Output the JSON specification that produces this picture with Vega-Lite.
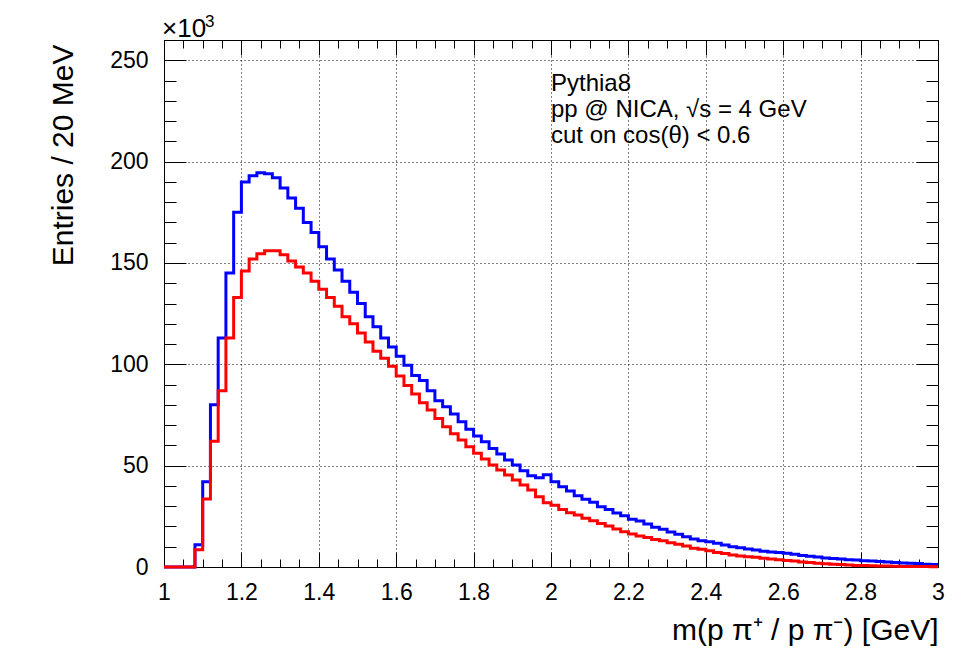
{
  "$schema": "https://vega.github.io/schema/vega-lite/v6.json",
  "autosize": "none",
  "width": 774,
  "height": 527,
  "padding": {"left": 164, "top": 40, "right": 42, "bottom": 104},
  "background": "white",
  "data": {"values": [
    {"m": 1.00, "n1": 0, "n2": 0},
    {"m": 1.02, "n1": 0, "n2": 0},
    {"m": 1.04, "n1": 0, "n2": 0},
    {"m": 1.06, "n1": 0, "n2": 0},
    {"m": 1.08, "n1": 11, "n2": 8.5},
    {"m": 1.10, "n1": 42, "n2": 33.5},
    {"m": 1.12, "n1": 80, "n2": 62},
    {"m": 1.14, "n1": 113, "n2": 87},
    {"m": 1.16, "n1": 145, "n2": 113},
    {"m": 1.18, "n1": 175, "n2": 133},
    {"m": 1.20, "n1": 190, "n2": 146},
    {"m": 1.22, "n1": 193, "n2": 152},
    {"m": 1.24, "n1": 194.5, "n2": 154.5},
    {"m": 1.26, "n1": 194, "n2": 156},
    {"m": 1.28, "n1": 192, "n2": 156},
    {"m": 1.30, "n1": 187, "n2": 154},
    {"m": 1.32, "n1": 182, "n2": 151},
    {"m": 1.34, "n1": 177, "n2": 148},
    {"m": 1.36, "n1": 170, "n2": 145},
    {"m": 1.38, "n1": 165, "n2": 141},
    {"m": 1.40, "n1": 158, "n2": 137},
    {"m": 1.42, "n1": 152, "n2": 133},
    {"m": 1.44, "n1": 146.5, "n2": 128.7},
    {"m": 1.46, "n1": 141, "n2": 123.5},
    {"m": 1.48, "n1": 135.5, "n2": 120},
    {"m": 1.50, "n1": 130, "n2": 115.5},
    {"m": 1.52, "n1": 123.5, "n2": 111},
    {"m": 1.54, "n1": 118.5, "n2": 106.5},
    {"m": 1.56, "n1": 113, "n2": 103},
    {"m": 1.58, "n1": 108.5, "n2": 99},
    {"m": 1.60, "n1": 104, "n2": 94.2},
    {"m": 1.62, "n1": 99.5, "n2": 89.6},
    {"m": 1.64, "n1": 94.5, "n2": 85.3},
    {"m": 1.66, "n1": 92, "n2": 81},
    {"m": 1.68, "n1": 87, "n2": 77.4},
    {"m": 1.70, "n1": 82, "n2": 73.3},
    {"m": 1.72, "n1": 79, "n2": 69.2},
    {"m": 1.74, "n1": 75.5, "n2": 65.7},
    {"m": 1.76, "n1": 71.7, "n2": 62.6},
    {"m": 1.78, "n1": 68, "n2": 59.3},
    {"m": 1.80, "n1": 64.6, "n2": 56.1},
    {"m": 1.82, "n1": 61.8, "n2": 53.3},
    {"m": 1.84, "n1": 58.5, "n2": 50.3},
    {"m": 1.86, "n1": 55.7, "n2": 47.8},
    {"m": 1.88, "n1": 52.8, "n2": 45.4},
    {"m": 1.90, "n1": 50.3, "n2": 42.9},
    {"m": 1.92, "n1": 47.5, "n2": 40.4},
    {"m": 1.94, "n1": 45, "n2": 38},
    {"m": 1.96, "n1": 44, "n2": 34.7},
    {"m": 1.98, "n1": 45.5, "n2": 31.7},
    {"m": 2.00, "n1": 42, "n2": 30.5},
    {"m": 2.02, "n1": 39.6, "n2": 28.4},
    {"m": 2.04, "n1": 37.5, "n2": 26.8},
    {"m": 2.06, "n1": 35.2, "n2": 25.6},
    {"m": 2.08, "n1": 33.4, "n2": 24},
    {"m": 2.10, "n1": 31.9, "n2": 22.8},
    {"m": 2.12, "n1": 29.7, "n2": 21.5},
    {"m": 2.14, "n1": 28.4, "n2": 20.2},
    {"m": 2.16, "n1": 26.7, "n2": 18.7},
    {"m": 2.18, "n1": 25.3, "n2": 17.4},
    {"m": 2.20, "n1": 23.5, "n2": 16.3},
    {"m": 2.22, "n1": 22.7, "n2": 15.3},
    {"m": 2.24, "n1": 21.2, "n2": 14.5},
    {"m": 2.26, "n1": 19.6, "n2": 13.6},
    {"m": 2.28, "n1": 18.6, "n2": 13},
    {"m": 2.30, "n1": 17.3, "n2": 12},
    {"m": 2.32, "n1": 16.1, "n2": 11.2},
    {"m": 2.34, "n1": 14.9, "n2": 10.4},
    {"m": 2.36, "n1": 13.8, "n2": 9.2},
    {"m": 2.38, "n1": 13, "n2": 8.7},
    {"m": 2.40, "n1": 12.4, "n2": 8},
    {"m": 2.42, "n1": 11.7, "n2": 7.2},
    {"m": 2.44, "n1": 10.8, "n2": 6.7},
    {"m": 2.46, "n1": 10, "n2": 5.9},
    {"m": 2.48, "n1": 9.5, "n2": 5.4},
    {"m": 2.50, "n1": 8.9, "n2": 5.1},
    {"m": 2.52, "n1": 8.4, "n2": 4.8},
    {"m": 2.54, "n1": 7.8, "n2": 4.3},
    {"m": 2.56, "n1": 7.4, "n2": 3.9},
    {"m": 2.58, "n1": 7.1, "n2": 3.6},
    {"m": 2.60, "n1": 6.8, "n2": 3.2},
    {"m": 2.62, "n1": 6.3, "n2": 3},
    {"m": 2.64, "n1": 5.7, "n2": 2.5},
    {"m": 2.66, "n1": 5.3, "n2": 2.2},
    {"m": 2.68, "n1": 4.9, "n2": 1.9},
    {"m": 2.70, "n1": 4.5, "n2": 1.6},
    {"m": 2.72, "n1": 4.2, "n2": 1.4},
    {"m": 2.74, "n1": 3.9, "n2": 1.2},
    {"m": 2.76, "n1": 3.6, "n2": 1},
    {"m": 2.78, "n1": 3.4, "n2": 0.8},
    {"m": 2.80, "n1": 3.1, "n2": 0.7},
    {"m": 2.82, "n1": 2.9, "n2": 0.6},
    {"m": 2.84, "n1": 2.7, "n2": 0.5},
    {"m": 2.86, "n1": 2.5, "n2": 0.45},
    {"m": 2.88, "n1": 2.2, "n2": 0.4},
    {"m": 2.90, "n1": 2, "n2": 0.3},
    {"m": 2.92, "n1": 1.9, "n2": 0.3},
    {"m": 2.94, "n1": 1.7, "n2": 0.2},
    {"m": 2.96, "n1": 1.4, "n2": 0.2},
    {"m": 2.98, "n1": 1.2, "n2": 0.15},
    {"m": 3.00, "n1": 1.2, "n2": 0.15}
  ]},
  "layer": [
    {
      "mark": {"type": "line", "interpolate": "step-after", "color": "#0000ff", "strokeWidth": 3, "strokeJoin": "miter"},
      "encoding": {
        "x": {"field": "m", "type": "quantitative",
          "scale": {"domain": [1, 3], "nice": false, "zero": false},
          "axis": {
            "orient": "bottom",
            "values": [1,1.05,1.1,1.15,1.2,1.25,1.3,1.35,1.4,1.45,1.5,1.55,1.6,1.65,1.7,1.75,1.8,1.85,1.9,1.95,2,2.05,2.1,2.15,2.2,2.25,2.3,2.35,2.4,2.45,2.5,2.55,2.6,2.65,2.7,2.75,2.8,2.85,2.9,2.95,3],
            "labelExpr": "abs(datum.value*5 - round(datum.value*5)) < 0.001 ? format(datum.value, '~g') : ''",
            "labelFlush": false, "labelOverlap": false, "labelBound": false,
            "labelFontSize": 23, "labelPadding": 29, "labelBaseline": "top",
            "tickSize": {"condition": {"test": "abs(datum.value*5 - round(datum.value*5)) < 0.001", "value": -15}, "value": -8},
            "grid": true,
            "gridOpacity": {"condition": {"test": "abs(datum.value*5 - round(datum.value*5)) < 0.001", "value": 1}, "value": 0},
            "gridDash": [1, 3], "gridColor": "#000", "gridWidth": 1,
            "title": "m(p π⁺ / p π⁻) [GeV]",
            "titleFontSize": 30, "titleAnchor": "end", "titleAlign": "right", "titleBaseline": "alphabetic", "titleY": 72
          }
        },
        "y": {"field": "n1", "type": "quantitative",
          "scale": {"domain": [0, 260], "nice": false, "zero": true},
          "axis": {
            "orient": "left",
            "values": [0,10,20,30,40,50,60,70,80,90,100,110,120,130,140,150,160,170,180,190,200,210,220,230,240,250,260],
            "labelExpr": "datum.value % 50 === 0 ? format(datum.value, 'd') : ''",
            "labelFlush": false, "labelOverlap": false, "labelBound": false,
            "labelFontSize": 23, "labelPadding": 38,
            "tickSize": {"condition": {"test": "datum.value % 50 === 0", "value": -22}, "value": -12},
            "grid": true,
            "gridOpacity": {"condition": {"test": "datum.value % 50 === 0", "value": 1}, "value": 0},
            "gridDash": [1, 3], "gridColor": "#000", "gridWidth": 1,
            "title": "Entries / 20 MeV",
            "titleFontSize": 30, "titleAnchor": "end", "titleAngle": 270, "titleAlign": "right", "titleBaseline": "alphabetic", "titleX": -92, "titleY": 4
          }
        }
      }
    },
    {
      "mark": {"type": "line", "interpolate": "step-after", "color": "#ff0000", "strokeWidth": 3, "strokeJoin": "miter"},
      "encoding": {
        "x": {"field": "m", "type": "quantitative",
          "axis": {
            "orient": "top",
            "values": [1,1.05,1.1,1.15,1.2,1.25,1.3,1.35,1.4,1.45,1.5,1.55,1.6,1.65,1.7,1.75,1.8,1.85,1.9,1.95,2,2.05,2.1,2.15,2.2,2.25,2.3,2.35,2.4,2.45,2.5,2.55,2.6,2.65,2.7,2.75,2.8,2.85,2.9,2.95,3],
            "labels": false, "grid": false, "title": null,
            "tickSize": {"condition": {"test": "abs(datum.value*5 - round(datum.value*5)) < 0.001", "value": -15}, "value": -8}
          }
        },
        "y": {"field": "n2", "type": "quantitative",
          "axis": {
            "orient": "right",
            "values": [0,10,20,30,40,50,60,70,80,90,100,110,120,130,140,150,160,170,180,190,200,210,220,230,240,250,260],
            "labels": false, "grid": false, "title": null,
            "tickSize": {"condition": {"test": "datum.value % 50 === 0", "value": -22}, "value": -12}
          }
        }
      }
    },
    {
      "data": {"values": [{}]},
      "mark": {"type": "text", "text": ["Pythia8", "pp @ NICA, √s = 4 GeV", "cut on cos(θ) < 0.6"], "align": "left", "baseline": "top", "fontSize": 24, "lineHeight": 26, "font": "Liberation Sans", "color": "#000"},
      "encoding": {
        "x": {"datum": 2.0, "type": "quantitative", "axis": null},
        "y": {"datum": 244, "type": "quantitative", "axis": null}
      }
    },
    {
      "data": {"values": [{}]},
      "mark": {"type": "text", "text": "×10", "align": "left", "baseline": "alphabetic", "fontSize": 26, "font": "Liberation Sans", "color": "#000", "clip": false, "dx": -2},
      "encoding": {
        "x": {"datum": 1.0, "type": "quantitative", "axis": null},
        "y": {"datum": 261.7, "type": "quantitative", "axis": null}
      }
    },
    {
      "data": {"values": [{}]},
      "mark": {"type": "text", "text": "3", "align": "left", "baseline": "alphabetic", "fontSize": 17, "font": "Liberation Sans", "color": "#000", "clip": false, "dx": 41, "dy": -10},
      "encoding": {
        "x": {"datum": 1.0, "type": "quantitative", "axis": null},
        "y": {"datum": 261.7, "type": "quantitative", "axis": null}
      }
    }
  ],
  "config": {
    "view": {"stroke": null},
    "axis": {
      "domainColor": "#000", "domainWidth": 1, "tickColor": "#000", "tickWidth": 1,
      "labelFont": "Liberation Sans", "titleFont": "Liberation Sans",
      "labelColor": "#000", "titleColor": "#000", "titleFontWeight": "normal"
    }
  }
}
